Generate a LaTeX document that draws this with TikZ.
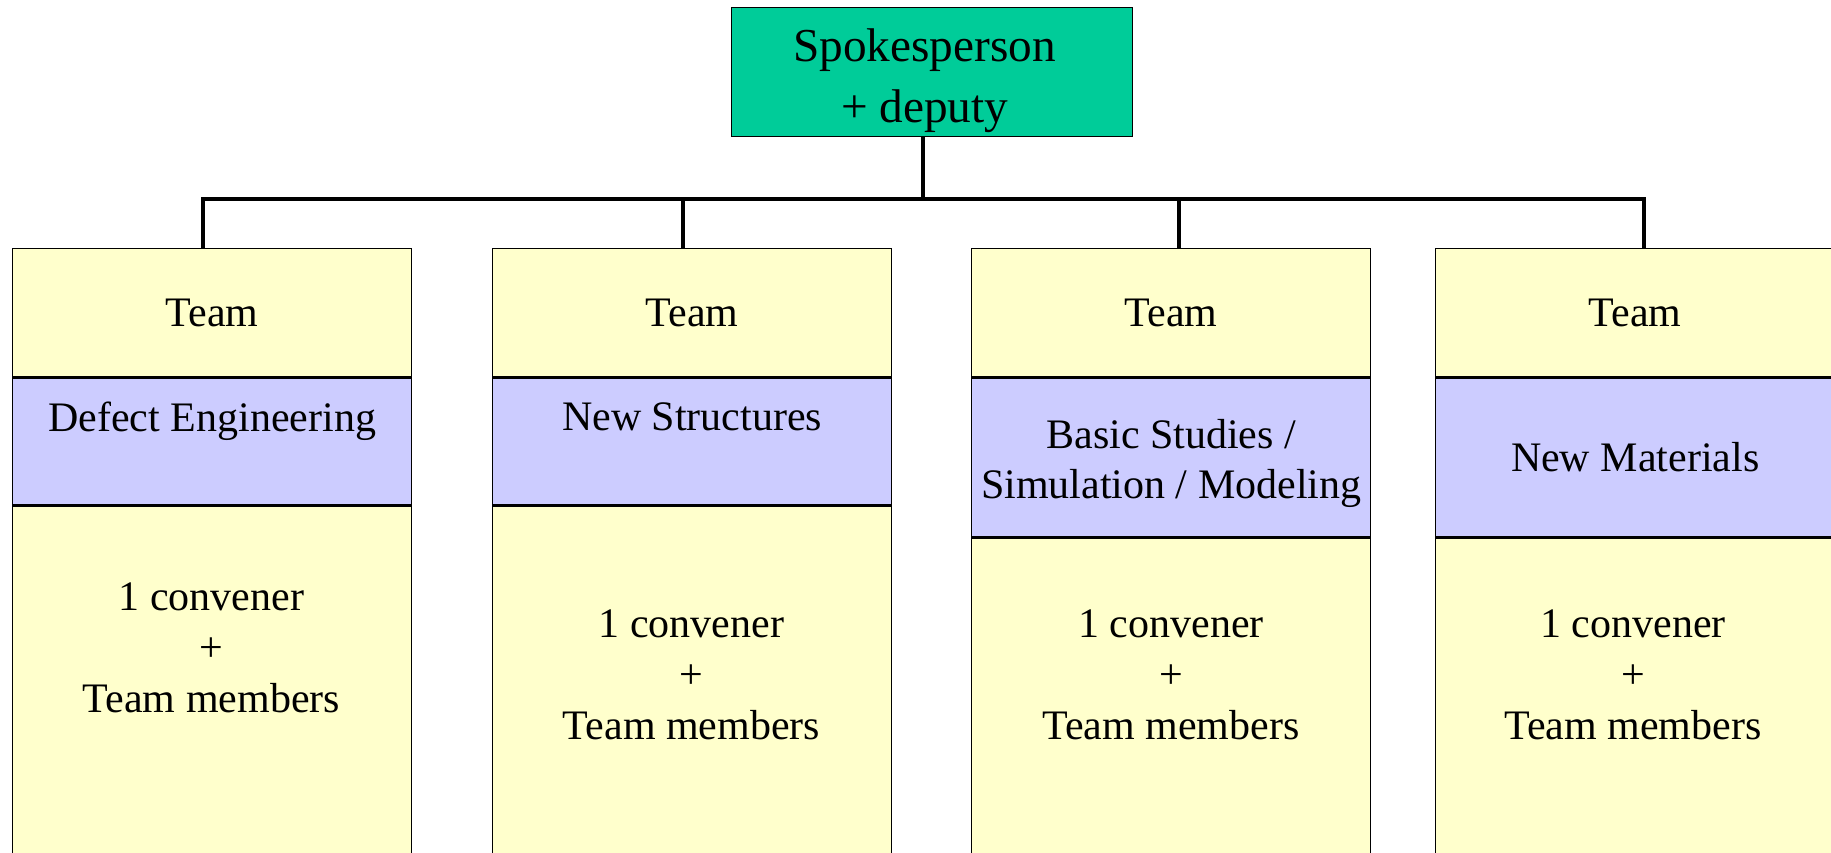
\documentclass[tikz,border=0pt]{standalone}
\usepackage{fontspec}
\setmainfont{Liberation Serif}
\usetikzlibrary{positioning}
\definecolor{spokegreen}{RGB}{0,204,153}
\definecolor{teamyellow}{RGB}{255,255,204}
\definecolor{topicblue}{RGB}{204,204,255}
\tikzset{
  {base box/.style} ={rectangle, draw=black, line width=0.8pt, inner sep=0,
                      anchor=north west, minimum width=7.98cm, align=center,
                      font=\fontsize{23.9}{28.5}\selectfont},
  {spoke box/.style} ={base box, fill=spokegreen, minimum width=8.02cm,
                      minimum height=2.58cm, font=\fontsize{26.9}{34.7}\selectfont},
  {team box/.style} ={base box, fill=teamyellow, minimum height=2.56cm},
  {topic box/.style} ={base box, fill=topicblue, minimum height=#1},
  topic box/.default = 2.54cm,
  {body box/.style} ={base box, fill=teamyellow, minimum height=8cm},
  {body text/.style} ={align=center, inner sep=0,
                      font=\fontsize{23.9}{29}\selectfont},
  {link/.style} ={draw, line width=2.8pt},
}
\begin{document}
\begin{tikzpicture}
\useasboundingbox (0,0) rectangle (36.62,-17.06);
% head of the group
\node[spoke box] (spoke) at (14.62,-0.14)
  {\rule{0pt}{1cm}Spokesperson\hspace*{0.3cm}\\+ deputy\hspace*{0.3cm}};
% the four teams
\node[team box] (team1) at (0.24,-4.96) {Team};
\node[topic box, below=0pt of team1] (topic1) {Defect Engineering\\\mbox{}};
\node[body box, below=0pt of topic1] (body1) {};
\node[team box] (team2) at (9.84,-4.96) {Team};
\node[topic box, below=0pt of team2] (topic2) {New Structures\\\mbox{}};
\node[body box, below=0pt of topic2] (body2) {};
\node[team box] (team3) at (19.42,-4.96) {Team};
\node[topic box=3.18cm, below=0pt of team3] (topic3) {\rule{0pt}{0.8cm}Basic Studies /\\Simulation / Modeling};
\node[body box, below=0pt of topic3] (body3) {};
\node[team box] (team4) at (28.70,-4.96) {Team};
\node[topic box=3.18cm, below=0pt of team4] (topic4) {New Materials};
\node[body box, below=0pt of topic4] (body4) {};
\node[body text] (members1) at (4.23,-12.95) {1 convener\\+\\Team members};
\node[body text] (members2) at (13.83,-13.49) {1 convener\\+\\Team members};
\node[body text] (members3) at (23.42,-13.49) {1 convener\\+\\Team members};
\node[body text] (members4) at (32.66,-13.49) {1 convener\\+\\Team members};
% connectors
\coordinate (hub) at (18.46,-3.98);
\coordinate (s1) at (4.06,-3.98);
\coordinate (s2) at (13.66,-3.98);
\coordinate (s3) at (23.58,-3.98);
\coordinate (s4) at (32.88,-3.98);
\draw[link] (spoke.south -| hub) -- (hub);
\draw[link] (s1 |- team1.north) -- (s1) -- (s4) -- (s4 |- team4.north);
\draw[link] (s2) -- (s2 |- team2.north);
\draw[link] (s3) -- (s3 |- team3.north);
\end{tikzpicture}
\end{document}
